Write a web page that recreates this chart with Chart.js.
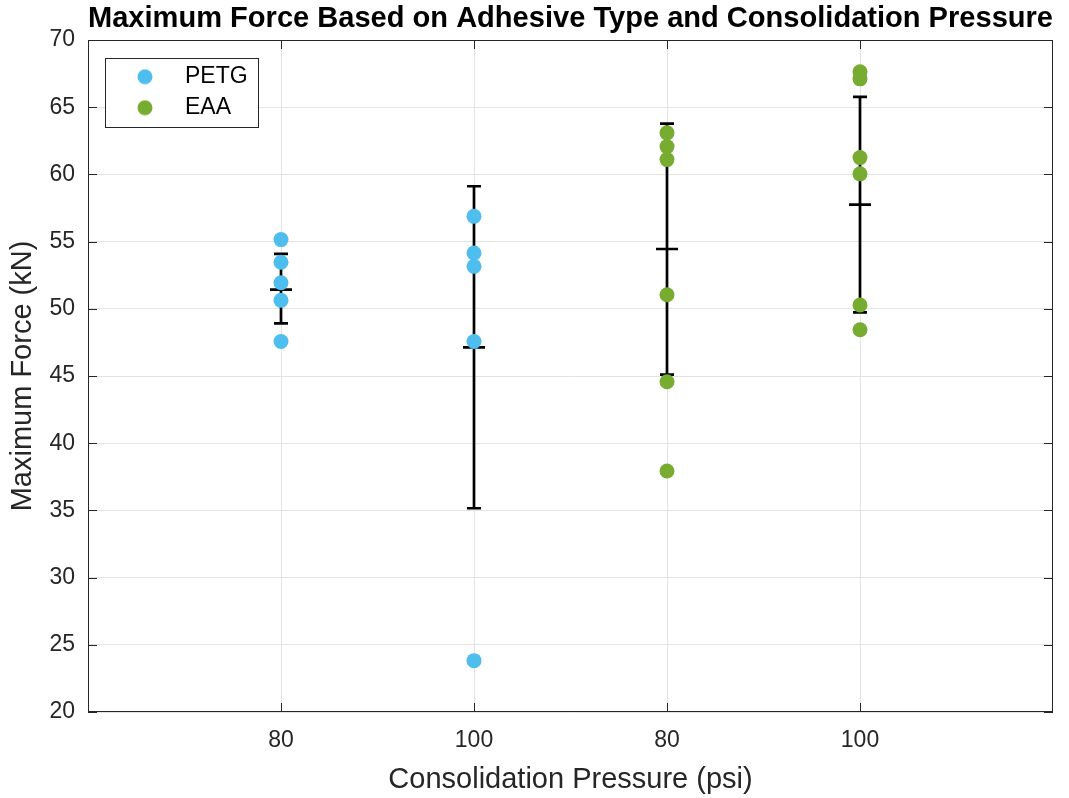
<!DOCTYPE html>
<html>
<head>
<meta charset="utf-8">
<script src="https://cdn.jsdelivr.net/npm/chart.js@4.4.1/dist/chart.umd.min.js"></script>
<style>
html,body{margin:0;padding:0;background:#fff;}
#wrap{width:1069px;height:798px;position:relative;}
</style>
</head>
<body>
<div id="wrap"><canvas id="c"></canvas></div>
<script>
// ---- data ----
const categories = ['80', '100', '80', '100'];
const xPositions = [1, 2, 3, 4];
const seriesNames = ['PETG', 'EAA'];
const petg80 = [55.15, 53.46, 51.94, 50.63, 47.57];
const petg100 = [56.88, 54.15, 53.16, 47.57, 23.82];
const eaa80 = [63.09, 62.07, 61.10, 51.05, 44.57, 37.93];
const eaa100 = [67.63, 67.11, 61.25, 60.04, 50.28, 48.44];
const centers = [51.42, 47.13, 54.45, 57.75];
const errLow = [48.91, 35.16, 45.10, 49.73];
const errHigh = [54.08, 59.12, 63.78, 65.77];
const yTicks = [20, 25, 30, 35, 40, 45, 50, 55, 60, 65, 70];

// ---- styles ----
const FONT = "'Liberation Sans', Arial, Helvetica, sans-serif";
const AXIS_COLOR = '#262626';
const GRID_COLOR = '#e3e3e3';
const colors = ['#4DBEEE', '#77AC30'];

function toPoints(xv, arr) { return arr.map(v => ({ x: xv, y: v })); }

function markerImage(color) {
  const c = document.createElement('canvas');
  c.width = 16; c.height = 16;
  const g = c.getContext('2d');
  g.fillStyle = color;
  g.beginPath(); g.arc(8, 8, 7.5, 0, Math.PI * 2); g.fill();
  return c;
}

const errorBarPlugin = {
  id: 'errorBars',
  beforeDatasetsDraw(chart) {
    const { ctx, chartArea: ca, scales: { x, y } } = chart;
    ctx.save();
    // axes box
    ctx.strokeStyle = AXIS_COLOR;
    ctx.lineWidth = 1;
    ctx.strokeRect(ca.left + 0.5, ca.top + 0.5, ca.right - ca.left - 1, ca.bottom - ca.top - 1);
    // inner tick marks
    const tl = 9;
    ctx.beginPath();
    y.ticks.forEach(t => {
      const py = Math.round(y.getPixelForValue(t.value)) + 0.5;
      ctx.moveTo(ca.left, py); ctx.lineTo(ca.left + tl, py);
      ctx.moveTo(ca.right, py); ctx.lineTo(ca.right - tl, py);
    });
    x.ticks.forEach(t => {
      const px = Math.round(x.getPixelForValue(t.value)) + 0.5;
      ctx.moveTo(px, ca.bottom); ctx.lineTo(px, ca.bottom - tl);
      ctx.moveTo(px, ca.top); ctx.lineTo(px, ca.top + tl);
    });
    ctx.stroke();
    // error bars
    ctx.strokeStyle = '#000';
    ctx.lineWidth = 2.7;
    ctx.lineCap = 'butt';
    xPositions.forEach((xv, i) => {
      const px = x.getPixelForValue(xv);
      const lo = y.getPixelForValue(errLow[i]);
      const hi = y.getPixelForValue(errHigh[i]);
      const c = y.getPixelForValue(centers[i]);
      ctx.beginPath();
      ctx.moveTo(px, lo); ctx.lineTo(px, hi);
      ctx.moveTo(px - 7, lo); ctx.lineTo(px + 7, lo);
      ctx.moveTo(px - 7, hi); ctx.lineTo(px + 7, hi);
      ctx.moveTo(px - 11, c); ctx.lineTo(px + 11, c);
      ctx.stroke();
    });
    ctx.restore();
  },
  afterLayout(chart) {
    const lg = chart.legend;
    const ca = chart.chartArea;
    if (!lg) return;
    lg.left = ca.left + 20.5;
    lg.top = ca.top + 17.2;
    lg.right = lg.left + lg.width;
    lg.bottom = lg.top + lg.height;
  },
  afterDatasetsDraw(chart) {
    const lg = chart.legend;
    if (!lg || !lg.columnSizes) return;
    const { ctx } = chart;
    const pad = lg.options.labels.padding;
    const bx = lg.left - 3.5, by = lg.top + 1;
    const bw = lg.width + 3.5, bh = pad + lg.columnSizes[0].height - 1;
    ctx.save();
    ctx.fillStyle = '#fff';
    ctx.fillRect(bx, by, bw, bh);
    ctx.strokeStyle = AXIS_COLOR;
    ctx.lineWidth = 1;
    ctx.strokeRect(Math.round(bx) + 0.5, Math.round(by) + 0.5, Math.round(bw), Math.round(bh));
    ctx.restore();
    lg.draw();
  }
};

const datasets = [
  {
    label: seriesNames[0],
    data: toPoints(xPositions[0], petg80).concat(toPoints(xPositions[1], petg100)),
    backgroundColor: colors[0],
    borderWidth: 0,
    pointRadius: 7.5,
    pointHoverRadius: 7.5
  },
  {
    label: seriesNames[1],
    data: toPoints(xPositions[2], eaa80).concat(toPoints(xPositions[3], eaa100)),
    backgroundColor: colors[1],
    borderWidth: 0,
    pointRadius: 7.5,
    pointHoverRadius: 7.5
  }
];

new Chart(document.getElementById('c'), {
  type: 'scatter',
  data: { datasets },
  options: {
    responsive: true,
    maintainAspectRatio: false,
    animation: false,
    events: [],
    layout: { padding: { left: 0, right: 16, top: 0, bottom: 0 } },
    scales: {
      x: {
        type: 'linear',
        min: 0,
        max: 5,
        afterBuildTicks: s => { s.ticks = xPositions.map(v => ({ value: v })); },
        afterFit: s => { s.height = 86; },
        ticks: {
          callback: v => { const i = xPositions.indexOf(v); return i >= 0 ? categories[i] : ''; },
          font: { size: 23, family: FONT },
          color: AXIS_COLOR,
          padding: 15.2,
          maxRotation: 0,
          autoSkip: false
        },
        grid: { color: GRID_COLOR, drawTicks: false, lineWidth: 1 },
        border: { display: false },
        title: {
          display: true,
          text: 'Consolidation Pressure (psi)',
          font: { size: 29, family: FONT },
          color: AXIS_COLOR,
          padding: { top: 0, bottom: 0.6 }
        }
      },
      y: {
        type: 'linear',
        min: 20,
        max: 70,
        afterBuildTicks: s => { s.ticks = yTicks.map(v => ({ value: v })); },
        afterFit: s => { s.width = 88; },
        ticks: {
          font: { size: 23, family: FONT },
          color: AXIS_COLOR,
          padding: 13
        },
        grid: { color: GRID_COLOR, drawTicks: false, lineWidth: 1 },
        border: { display: false },
        title: {
          display: true,
          text: 'Maximum Force (kN)',
          font: { size: 29, family: FONT },
          color: AXIS_COLOR,
          padding: { top: 5.6, bottom: 0 }
        }
      }
    },
    plugins: {
      tooltip: { enabled: false },
      title: {
        display: true,
        text: 'Maximum Force Based on Adhesive Type and Consolidation Pressure',
        fullSize: false,
        font: { size: 29.5, weight: 'bold', family: FONT },
        color: '#000',
        padding: { top: 0.9, bottom: 3.7 }
      },
      legend: {
        position: 'chartArea',
        align: 'start',
        labels: {
          usePointStyle: true,
          pointStyleWidth: 57,
          padding: 8,
          font: { size: 23, family: FONT },
          color: '#000',
          generateLabels(chart) {
            return chart.data.datasets.map((ds, i) => ({
              text: ds.label,
              pointStyle: markerImage(ds.backgroundColor),
              fillStyle: ds.backgroundColor,
              strokeStyle: ds.backgroundColor,
              lineWidth: 0,
              hidden: false,
              datasetIndex: i
            }));
          }
        }
      }
    }
  },
  plugins: [errorBarPlugin]
});
</script>
</body>
</html>
